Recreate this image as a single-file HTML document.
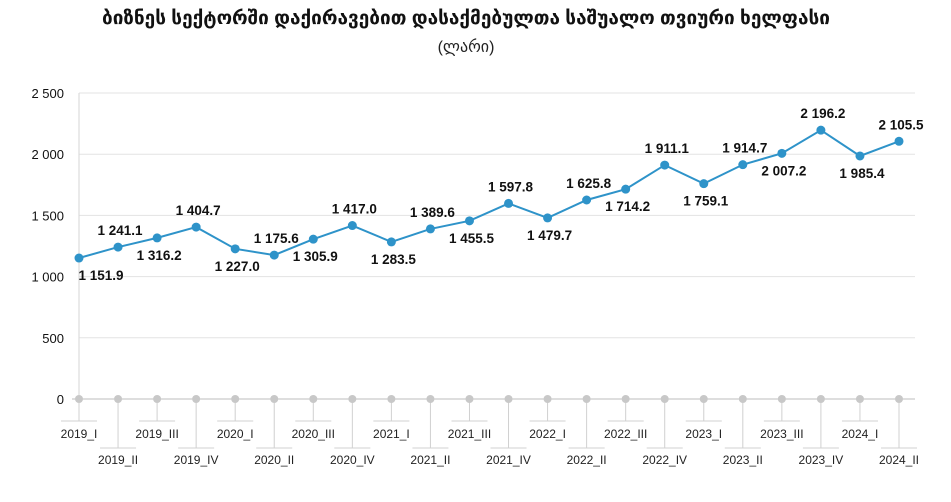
<!DOCTYPE html>
<html><head><meta charset="utf-8">
<style>
body{margin:0;background:#fff;width:951px;height:497px;overflow:hidden;font-family:"Liberation Sans","DejaVu Sans",sans-serif;}
svg text{font-family:"Liberation Sans","DejaVu Sans",sans-serif;}
</style></head><body>
<svg width="951" height="497">
<text x="466" y="24" text-anchor="middle" font-size="19" font-weight="bold" fill="#111" font-family="DejaVu Sans, sans-serif">ბიზნეს სექტორში დაქირავებით დასაქმებულთა საშუალო თვიური ხელფასი</text>
<text x="466" y="52" text-anchor="middle" font-size="16" fill="#222" font-family="DejaVu Sans, sans-serif">(ლარი)</text>
<g id="grid"></g><g id="axis"></g><g id="series"></g><g id="labels"></g>
</svg>
<script>
const categories=["2019_I","2019_II","2019_III","2019_IV","2020_I","2020_II","2020_III","2020_IV","2021_I","2021_II","2021_III","2021_IV","2022_I","2022_II","2022_III","2022_IV","2023_I","2023_II","2023_III","2023_IV","2024_I","2024_II"];
const values=[1151.9,1241.1,1316.2,1404.7,1227.0,1175.6,1305.9,1417.0,1283.5,1389.6,1455.5,1597.8,1479.7,1625.8,1714.2,1911.1,1759.1,1914.7,2007.2,2196.2,1985.4,2105.5];
const labelAbove=[false,true,false,true,false,true,false,true,false,true,false,true,false,true,false,true,false,true,false,true,false,true];
const yTicks=[0,500,1000,1500,2000,2500];
const yTickLabels=["0","500","1 000","1 500","2 000","2 500"];
const NS="http://www.w3.org/2000/svg";
const x0=79,x1=899,yBase=399,yTop=93,yMax=2500;
const xs=i=>x0+i*(x1-x0)/(categories.length-1);
const ys=v=>yBase-v/yMax*(yBase-yTop);
function mk(tag,attrs,parent){const e=document.createElementNS(NS,tag);for(const k in attrs)e.setAttribute(k,attrs[k]);document.getElementById(parent).appendChild(e);return e;}
const fmt=v=>{const s=v.toFixed(1);const [a,b]=s.split(".");return a.replace(/\B(?=(\d{3})+(?!\d))/g," ")+"."+b;};
yTicks.forEach((t,i)=>{
  if(t>0){const g=mk("line",{x1:x0,x2:915,y1:ys(t),y2:ys(t),stroke:"#e3e3e3","stroke-width":1},"grid");
  
  }
  const tx=mk("text",{x:64,y:ys(t)+5,"text-anchor":"end","font-size":13,fill:"#111"},"grid");
  tx.textContent=yTickLabels[i];
  
  
});
const ya=mk("line",{x1:x0,x2:x0,y1:yTop,y2:yBase,stroke:"#d6d6d6"},"axis");


const xa=mk("line",{x1:72,x2:915,y1:yBase,y2:yBase,stroke:"#bdbdbd"},"axis");


categories.forEach((c,i)=>{
  const x=xs(i),odd=i%2===0,ly=odd?433:459,ty=odd?421:448;
  const v=mk("line",{x1:x,x2:x,y1:yBase,y2:ty,stroke:"#d0d0d0"},"axis");
  
  
  const h=mk("line",{x1:x-18,x2:x+18,y1:ty,y2:ty,stroke:"#d0d0d0"},"axis");
  
  
  const d=mk("circle",{cx:x,cy:yBase,r:4,fill:"#c8c8c8"},"axis");
  
  
  const t=mk("text",{x:x,y:ly+5,"text-anchor":"middle","font-size":12,fill:"#222"},"axis");
  t.textContent=c;
  
  
});
const pl=mk("polyline",{points:values.map((v,i)=>xs(i)+","+ys(v)).join(" "),fill:"none",stroke:"#2e93c9","stroke-width":2},"series");


values.forEach((v,i)=>{
  const p=mk("circle",{cx:xs(i),cy:ys(v),r:4.5,fill:"#2e93c9"},"series");
  
  
  const lx=i===0?xs(i)+22:xs(i)+2;
  const ly=labelAbove[i]?ys(v)-12:ys(v)+22;
  const t=mk("text",{x:lx,y:ly,"text-anchor":"middle","font-size":13.5,"font-weight":"bold",fill:"#111"},"labels");
  t.textContent=fmt(v);
  
  
});
</script>
</body></html>
